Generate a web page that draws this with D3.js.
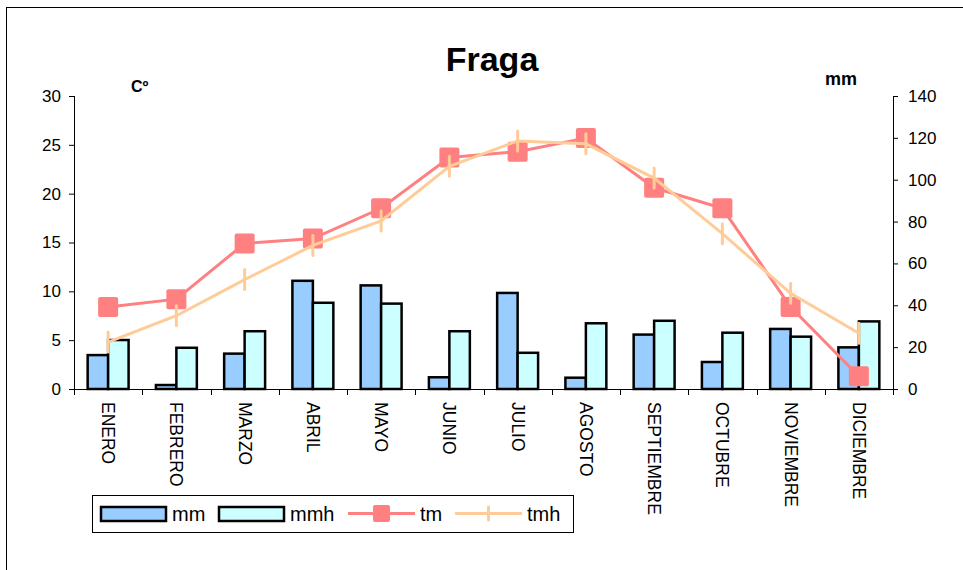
<!DOCTYPE html>
<html>
<head>
<meta charset="utf-8">
<script src="https://cdn.jsdelivr.net/npm/d3@7"></script>
<style>
  body { margin: 0; background: #fff; }
  svg { font-family: Arial, "Liberation Sans", sans-serif; }
</style>
</head>
<body>
<div id="chart"></div>
<script>
// Monthly climate data for Fraga
const months = ['ENERO', 'FEBRERO', 'MARZO', 'ABRIL', 'MAYO', 'JUNIO', 'JULIO', 'AGOSTO', 'SEPTIEMBRE', 'OCTUBRE', 'NOVIEMBRE', 'DICIEMBRE'];
const mm  = [16.2, 1.9, 16.9, 51.7, 49.5, 5.6, 45.9, 5.4, 26.0, 12.9, 28.7, 19.9];
const mmh = [23.4, 19.7, 27.6, 41.2, 40.8, 27.6, 17.3, 31.4, 32.6, 26.9, 25.0, 32.3];
const tm  = [8.4, 9.2, 14.9, 15.4, 18.5, 23.7, 24.3, 25.7, 20.6, 18.5, 8.4, 1.3];
const tmh = [4.8, 7.5, 11.2, 14.7, 17.2, 22.8, 25.4, 25.1, 21.6, 15.9, 9.8, 5.7];
const tempTicks = [0, 5, 10, 15, 20, 25, 30];
const rainTicks = [0, 20, 40, 60, 80, 100, 120, 140];

const colors = { mm: '#99CCFF', mmh: '#CCFFFF', tm: '#FF8080', tmh: '#FFCC99' };

const width = 963, height = 570;
const plotLeft = 74, plotRight = 893, plotTop = 96, plotBottom = 389;

const svg = d3.select('#chart').append('svg')
  .attr('width', width)
  .attr('height', height);

// chart border
svg.append('rect')
  .attr('x', 6.5).attr('y', 7.5)
  .attr('width', 1000).attr('height', 600)
  .attr('fill', 'none').attr('stroke', '#000').attr('stroke-width', 1);

// scales
const x = d3.scaleBand().domain(months).range([plotLeft, plotRight]);
const xSub = d3.scaleBand().domain(['mm', 'mmh']).range([0, x.bandwidth()]).paddingOuter(0.667);
const yT = d3.scaleLinear().domain([0, 30]).range([plotBottom, plotTop]);
const yR = d3.scaleLinear().domain([0, 140]).range([plotBottom, plotTop]);

// bars
const barData = months.map((m, i) => ({ m, mm: mm[i], mmh: mmh[i] }));
['mm', 'mmh'].forEach(key => {
  svg.append('g').selectAll('rect')
    .data(barData)
    .enter().append('rect')
    .attr('x', d => x(d.m) + xSub(key))
    .attr('y', d => yR(d[key]))
    .attr('width', xSub.bandwidth())
    .attr('height', d => plotBottom - yR(d[key]))
    .attr('fill', colors[key])
    .attr('stroke', '#000')
    .attr('stroke-width', 2.5);
});

// axes
const leftAxis = svg.append('g')
  .attr('transform', `translate(${plotLeft},0)`)
  .call(d3.axisLeft(yT).tickValues(tempTicks).tickSize(5).tickPadding(8));
const rightAxis = svg.append('g')
  .attr('transform', `translate(${plotRight},0)`)
  .call(d3.axisRight(yR).tickValues(rainTicks).tickSize(5).tickPadding(10));
[leftAxis, rightAxis].forEach(a => {
  a.select('.domain').remove();
  a.selectAll('text').style('font-size', '17px').attr('fill', '#000');
  a.selectAll('line').attr('stroke', '#000');
  a.append('line').attr('x1', 0.5).attr('x2', 0.5).attr('y1', plotTop).attr('y2', plotBottom).attr('stroke', '#000');
});

// category axis
const catAxis = svg.append('g').attr('transform', `translate(0,${plotBottom})`);
catAxis.append('line')
  .attr('x1', plotLeft).attr('x2', plotRight).attr('y1', 0.5).attr('y2', 0.5)
  .attr('stroke', '#000');
catAxis.selectAll('.tick')
  .data(months.concat(['end']))
  .enter().append('line')
  .attr('x1', (d, i) => Math.round(plotLeft + i * x.step()) + 0.5)
  .attr('x2', (d, i) => Math.round(plotLeft + i * x.step()) + 0.5)
  .attr('y1', 0).attr('y2', 6)
  .attr('stroke', '#000');
catAxis.selectAll('text')
  .data(months)
  .enter().append('text')
  .attr('transform', d => `translate(${x(d) + x.bandwidth() / 2},13) rotate(90)`)
  .attr('dy', '0.35em')
  .style('font-size', '17.5px')
  .text(d => d);

// lines
const line = yScale => d3.line()
  .x((d, i) => x(months[i]) + x.bandwidth() / 2)
  .y(d => yScale(d));

svg.append('path')
  .datum(tm)
  .attr('d', line(yT))
  .attr('fill', 'none')
  .attr('stroke', colors.tm)
  .attr('stroke-width', 3);
svg.append('g').selectAll('rect')
  .data(tm)
  .enter().append('rect')
  .attr('x', (d, i) => x(months[i]) + x.bandwidth() / 2 - 10)
  .attr('y', d => yT(d) - 10)
  .attr('width', 20).attr('height', 20)
  .attr('rx', 2)
  .attr('fill', colors.tm);

svg.append('path')
  .datum(tmh)
  .attr('d', line(yT))
  .attr('fill', 'none')
  .attr('stroke', colors.tmh)
  .attr('stroke-width', 3);
svg.append('g').selectAll('line')
  .data(tmh)
  .enter().append('line')
  .attr('x1', (d, i) => x(months[i]) + x.bandwidth() / 2)
  .attr('x2', (d, i) => x(months[i]) + x.bandwidth() / 2)
  .attr('y1', d => yT(d) - 10)
  .attr('y2', d => yT(d) + 10)
  .attr('stroke', colors.tmh)
  .attr('stroke-width', 3)
  .attr('stroke-linecap', 'round');

// titles
svg.append('text')
  .attr('x', 492).attr('y', 71)
  .attr('text-anchor', 'middle')
  .style('font-size', '34px').style('font-weight', 'bold')
  .text('Fraga');
svg.append('text')
  .attr('x', 131).attr('y', 92)
  .style('font-size', '16px').style('font-weight', 'bold')
  .text('Cº');
svg.append('text')
  .attr('x', 825).attr('y', 85)
  .style('font-size', '18px').style('font-weight', 'bold')
  .text('mm');

// legend
const legend = svg.append('g');
legend.append('rect')
  .attr('x', 92.5).attr('y', 495.5)
  .attr('width', 481).attr('height', 37)
  .attr('fill', '#fff').attr('stroke', '#000');

const legendItems = [
  { key: 'mm', type: 'bar', x: 100, tx: 172 },
  { key: 'mmh', type: 'bar', x: 218, tx: 290 },
  { key: 'tm', type: 'square', x: 348, tx: 420 },
  { key: 'tmh', type: 'tick', x: 455, tx: 527 }
];
legendItems.forEach(item => {
  if (item.type === 'bar') {
    legend.append('rect')
      .attr('x', item.x + 1).attr('y', 507)
      .attr('width', 65).attr('height', 14)
      .attr('fill', colors[item.key])
      .attr('stroke', '#000').attr('stroke-width', 2.5);
  } else {
    legend.append('line')
      .attr('x1', item.x).attr('x2', item.x + 67)
      .attr('y1', 513.5).attr('y2', 513.5)
      .attr('stroke', colors[item.key]).attr('stroke-width', 3);
    if (item.type === 'square') {
      legend.append('rect')
        .attr('x', item.x + 25).attr('y', 505)
        .attr('width', 17).attr('height', 17).attr('rx', 2)
        .attr('fill', colors[item.key]);
    } else {
      legend.append('line')
        .attr('x1', item.x + 33.5).attr('x2', item.x + 33.5)
        .attr('y1', 507).attr('y2', 520)
        .attr('stroke', colors[item.key]).attr('stroke-width', 3)
        .attr('stroke-linecap', 'round');
    }
  }
  legend.append('text')
    .attr('x', item.tx).attr('y', 514)
    .attr('dy', '0.35em')
    .style('font-size', '20px')
    .text(item.key);
});
</script>
</body>
</html>
